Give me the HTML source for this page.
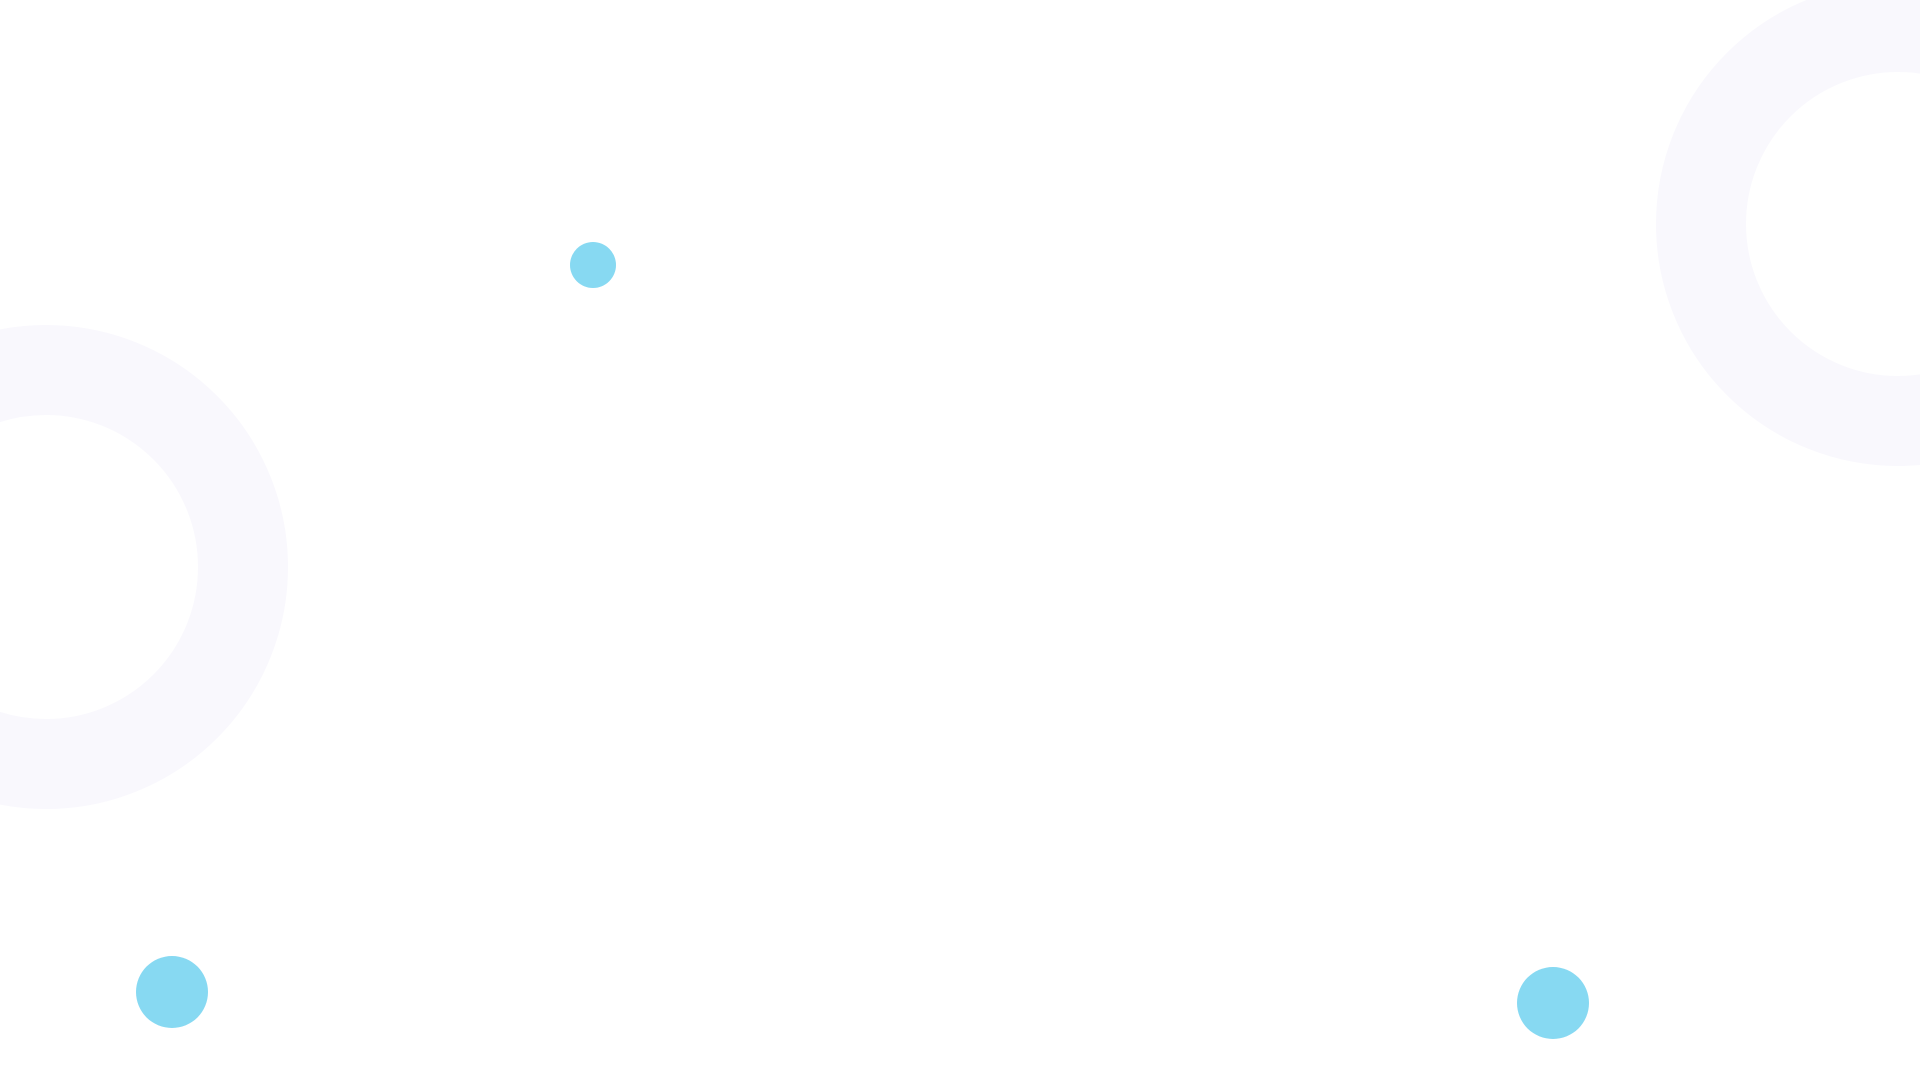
<!DOCTYPE html>
<html>
<head>
<meta charset="utf-8">
<style>
html,body{margin:0;padding:0;width:1920px;height:1080px;overflow:hidden;background:#ffffff;}
svg{display:block;}
</style>
</head>
<body>
<svg width="1920" height="1080" viewBox="0 0 1920 1080" xmlns="http://www.w3.org/2000/svg">
  <rect width="1920" height="1080" fill="#ffffff"/>
  <circle cx="46" cy="567" r="197" fill="none" stroke="#f9f8fd" stroke-width="90"/>
  <circle cx="1898" cy="224" r="197" fill="none" stroke="#f9f8fd" stroke-width="90"/>
  <circle cx="593" cy="265" r="23" fill="#87d9f2"/>
  <circle cx="172" cy="992" r="36" fill="#87d9f2"/>
  <circle cx="1553" cy="1003" r="36" fill="#87d9f2"/>
</svg>
</body>
</html>
